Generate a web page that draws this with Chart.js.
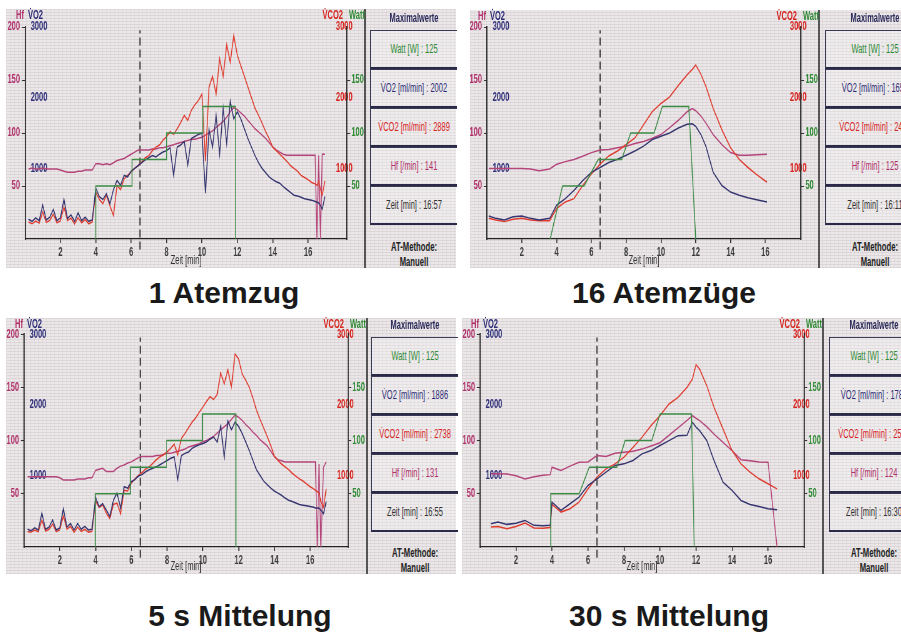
<!DOCTYPE html>
<html>
<head>
<meta charset="utf-8">
<script src="https://cdn.jsdelivr.net/npm/chart.js@4.4.1/dist/chart.umd.min.js"></script>
<style>
  html, body { margin: 0; padding: 0; width: 901px; height: 634px; overflow: hidden; background: #fff; }
  body { position: relative; font-family: 'Liberation Sans', Arial, Helvetica, sans-serif; }
  .panel {
    position: absolute;
    background-color: #ebe7e8;
    background-image:
      repeating-linear-gradient(0deg, rgba(120,100,110,.12) 0px, rgba(120,100,110,.12) 1px, transparent 1px, transparent 3px),
      repeating-linear-gradient(90deg, rgba(120,100,110,.06) 0px, rgba(120,100,110,.06) 1px, transparent 1px, transparent 4px);
  }
  .sep { position: absolute; width: 1.5px; background: #555; }
  .box {
    position: absolute; box-sizing: border-box; height: 39px;
    border-top: 1px solid #3a3a55; border-left: 1px solid #3a3a55; border-bottom: 2px solid #2a2a48;
    background: rgba(255,255,255,.22);
  }
  .lbl { position: absolute; white-space: nowrap; line-height: 1; }
</style>
</head>
<body>
<script>
// ---------- data ----------
const atTime = [6.5, 6.5];
const atLevel = [-10, 197];

// 1 Atemzug
const p1Time = [0.2,0.4,0.6,0.8,1.0,1.2,1.4,1.6,1.8,2.0,2.2,2.4,2.6,2.8,3.0,3.2,3.4,3.6,3.8,
  4.0,4.2,4.4,4.6,4.8,5.0,5.2,5.4,5.6,5.8,6.0,6.2,6.4,6.6,6.8,7.0,7.2,7.4,7.6,7.8,
  8.0,8.2,8.4,8.6,8.8,9.0,9.2,9.4,9.6,9.8,10.0,10.2,10.4,10.6,10.8,11.0,11.2,11.4,11.6,11.8,
  12.0,12.2,12.4,12.6,12.8,13.0,13.2,13.4,13.6,13.8,14.0,14.2,14.4,14.6,14.8,15.0,15.2,15.4,15.6,15.8,
  16.0,16.2,16.4,16.5,16.6,16.7,16.8,16.95];
const p1Vo2 = [280,250,300,260,480,270,310,420,260,300,560,290,340,250,370,260,310,250,270,
  720,600,560,640,500,700,830,760,900,880,960,1000,1040,1080,1120,1150,1180,1160,1200,1230,
  1250,1290,900,1300,1330,1380,1050,1420,1450,1480,1500,650,1550,1300,1750,1200,1850,1350,1950,1700,
  1800,1700,1560,1420,1300,1180,1080,1000,940,880,840,810,790,740,700,660,620,610,590,570,
  560,550,530,520,510,470,420,600];
const p1Vco2 = [240,215,255,225,380,235,265,350,230,255,450,260,295,215,300,230,275,215,240,
  660,560,500,620,470,330,760,700,850,900,950,1000,1040,1090,1150,1180,1250,1300,1330,1400,
  1450,1520,1480,1560,1650,1750,1680,1820,1900,1960,2050,1100,2150,2300,2050,2550,2300,2750,2500,2880,
  2600,2450,2300,2150,2000,1850,1750,1640,1520,1420,1300,1250,1200,1150,1100,1040,1000,960,900,870,
  840,800,780,760,820,700,620,820];
const p1Hf = [66,67,66,66,67,66,66,66,66,65,64,63,63,63,64,64,65,65,65,
  71,71,70,71,70,72,74,75,76,78,80,82,84,84,84,84,85,85,86,86,
  87,88,89,90,91,92,93,94,94,95,96,98,100,102,105,108,111,115,120,124,
  122,119,116,112,108,104,101,98,95,91,87,84,82,80,79,79,79,79,79,79,
  79,79,79,0,79,0,80,80];
const p1WattTime = [4, 4, 6.05, 6.05, 8, 8, 10.05, 10.05, 11.9, 11.9];
const p1Watt = [0, 50, 50, 75, 75, 100, 100, 125, 125, 0];
const p1Max = ['Watt [W] : 125', 'V\u0307O2 [ml/min] : 2002', 'V\u0307CO2 [ml/min] : 2889', 'Hf [/min] : 141', 'Zeit [min] : 16:57'];

// 16 Atemzüge
const p2Time = [0.1,0.5,1.0,1.5,2.0,2.5,3.0,3.6,4.0,4.5,5.0,5.5,6.0,6.5,7.0,7.5,8.0,8.5,9.0,9.5,
  10.0,10.5,11.0,11.5,11.8,12.0,12.3,12.6,13.0,13.5,14.0,14.5,15.0,15.5,16.1];
const p2Hf = [66.6,66.6,66.6,66.6,66.6,66,64.5,66,70.5,73,75,78,81.5,84,84.5,86,87.6,90,92,95,
  98.5,105,112,120,123,121,116,109,98.5,89,81.5,79,79,79.5,80];
const p2Vo2 = [325,292,269,316,325,292,269,292,478,571,687,827,943,1012,1082,1128,1184,1245,1314,1407,
  1454,1500,1570,1625,1630,1593,1477,1300,943,757,664,618,585,557,525];
const p2Vco2 = [292,269,246,279,292,269,260,260,432,525,571,757,920,1059,1175,1245,1337,1430,1616,1802,
  1918,2011,2173,2322,2400,2461,2330,2150,1848,1546,1291,1128,1012,910,803];
const p2WattTime = [3.63, 4.34, 5.58, 6.39, 7.74, 8.26, 9.6, 10.08, 11.6, 12.0];
const p2Watt = [0, 50, 50, 75, 75, 100, 100, 125, 125, 0];
const p2Max = ['Watt [W] : 125', 'V\u0307O2 [ml/min] : 1655', 'V\u0307CO2 [ml/min] : 2489', 'Hf [/min] : 125', 'Zeit [min] : 16:11'];

// 5 s Mittelung
const p3Time = [0.2,0.4,0.6,0.8,1.0,1.2,1.4,1.6,1.8,2.0,2.2,2.4,2.6,2.8,3.0,3.2,3.4,3.6,3.8,
  4.0,4.2,4.4,4.6,4.8,5.0,5.2,5.4,5.6,5.8,6.0,6.2,6.4,6.6,6.8,7.0,7.2,7.4,7.6,7.8,
  8.0,8.2,8.4,8.6,8.8,9.0,9.2,9.4,9.6,9.8,10.0,10.2,10.4,10.6,10.8,11.0,11.2,11.4,11.6,11.8,
  12.0,12.2,12.4,12.6,12.8,13.0,13.2,13.4,13.6,13.8,14.0,14.2,14.4,14.6,14.8,15.0,15.2,15.4,15.6,15.8,
  16.0,16.2,16.3,16.4,16.5,16.6,16.75,16.9];
const p3Vo2 = [250,230,270,240,480,250,280,380,240,270,540,280,330,240,330,250,290,240,250,
  700,570,610,520,430,660,760,550,850,830,920,950,1000,1020,1060,1090,1110,1130,1160,1190,
  1220,1250,1270,950,1290,1320,1340,1390,1420,1440,1460,1480,1520,1550,1480,1700,1270,1780,1650,1760,
  1700,1600,1480,1360,1220,1090,1010,930,880,830,790,760,730,690,660,640,620,600,590,580,
  570,560,550,550,545,520,470,640];
const p3Vco2 = [215,210,240,215,380,225,250,320,215,240,440,250,290,210,280,220,250,210,220,
  650,560,590,480,400,600,620,470,800,790,900,960,1010,1050,1100,1130,1180,1230,1270,1300,
  1340,1390,1450,1300,1530,1600,1680,1760,1820,1900,1970,2050,2120,2080,2150,2450,2300,2500,2250,2720,
  2650,2440,2350,2250,2100,1930,1800,1680,1560,1430,1280,1220,1170,1130,1090,1040,1000,960,930,890,
  850,820,800,780,760,640,560,820];
const p3Hf = [66,66,66,66,66,66,66,66,66,65,63,63,63,63,64,64,64,65,65,
  72,73,74,71,71,71,74,76,77,79,80,82,84,85,85,85,85,86,86,87,
  88,88,89,90,91,92,94,95,96,97,99,100,102,104,107,110,113,116,120,124,
  122,119,115,112,108,105,101,98,95,90,85,82,81,80,80,80,80,80,80,80,
  80,80,80,0,78,0,75,80];
const p3WattTime = [3.99, 3.99, 5.95, 5.95, 7.97, 7.97, 9.98, 9.98, 11.85, 11.85];
const p3Watt = [0, 50, 50, 75, 75, 100, 100, 125, 125, 0];
const p3Max = ['Watt [W] : 125', 'V\u0307O2 [ml/min] : 1886', 'V\u0307CO2 [ml/min] : 2738', 'Hf [/min] : 131', 'Zeit [min] : 16:55'];

// 30 s Mittelung
const p4Time = [0.6,1.0,1.5,2.0,2.5,3.0,3.5,3.9,4.0,4.5,5.0,5.5,6.0,6.5,7.0,7.5,8.0,8.5,9.0,9.5,
  10.0,10.5,11.0,11.5,11.8,12.0,12.2,12.6,13.0,13.5,14.0,14.5,15.0,15.5,16.0,16.5];
const p4Hf = [68.8,68.8,68.5,67,64,66,67.5,68,75,72,76,79.7,80,86,85,88,89,90,92,95,
  98,105,112,119,123.4,121,118.8,113,106,98.4,90.6,82,81,80,79.7,0];
const p4Vo2 = [328,351,319,335,375,305,300,305,633,516,609,703,867,961,1055,1148,1172,1219,1313,1359,
  1430,1500,1570,1575,1758,1690,1640,1500,1219,914,797,656,600,572,539,525];
const p4Vco2 = [281,290,258,290,338,267,265,275,600,492,539,633,820,984,1102,1172,1266,1406,1547,1711,
  1852,2016,2109,2250,2367,2569,2508,2273,1969,1664,1359,1172,1055,961,891,820];
const p4WattTime = [3.93, 3.93, 5.51, 6.07, 7.6, 8.06, 9.54, 10.0, 11.75, 11.9];
const p4Watt = [0, 50, 50, 75, 75, 100, 100, 125, 125, 0];
const p4Max = ['Watt [W] : 125', 'V\u0307O2 [ml/min] : 1786', 'V\u0307CO2 [ml/min] : 2561', 'Hf [/min] : 124', 'Zeit [min] : 16:30'];

// ---------- look ----------
const SQ = 1.6;   // canvas is drawn wider and squeezed, gives the narrow screen font
const FONT = "'Liberation Sans', Arial, Helvetica, sans-serif";
const LINE = { hf: '#b4457a', vo2: '#34346e', vco2: '#df3b2e', w: '#3d8c46' };
const TEXT = { hf: '#b0306a', vo2: '#2d2d78', vco2: '#d6231e', w: '#2f8a34', zeit: '#333' };

const panels = [
  { bx: 6, by: 9, bw: 450, bh: 259, sepX: 365, axL: 25, axR: 347, yTop: 27, yBot: 239, xMax: 18.2,
    boxX: 370, boxW: 87, titleY: 18, boxTop: 30, atY: 247, headY: 15,
    t: p1Time, hf: p1Hf, vo2: p1Vo2, vco2: p1Vco2, wt: p1WattTime, w: p1Watt, max: p1Max,
    caption: '1 Atemzug', capX: 224, capY: 303 },
  { bx: 470, by: 10, bw: 431, bh: 258, sepX: 819, axL: 487, axR: 801, yTop: 27, yBot: 239, xMax: 18.05,
    boxX: 825, boxW: 100, titleY: 18, boxTop: 30, atY: 247, headY: 16,
    t: p2Time, hf: p2Hf, vo2: p2Vo2, vco2: p2Vco2, wt: p2WattTime, w: p2Watt, max: p2Max,
    caption: '16 Atemzüge', capX: 664, capY: 303 },
  { bx: 6, by: 318, bw: 450, bh: 256, sepX: 367, axL: 24, axR: 348, yTop: 333, yBot: 547, xMax: 18.12,
    boxX: 371, boxW: 87, titleY: 325, boxTop: 337, atY: 553, headY: 324,
    t: p3Time, hf: p3Hf, vo2: p3Vo2, vco2: p3Vco2, wt: p3WattTime, w: p3Watt, max: p3Max,
    caption: '5 s Mittelung', capX: 240, capY: 626 },
  { bx: 462, by: 318, bw: 439, bh: 256, sepX: 823, axL: 480, axR: 804, yTop: 333, yBot: 547, xMax: 18.0,
    boxX: 829, boxW: 90, titleY: 325, boxTop: 337, atY: 553, headY: 324,
    t: p4Time, hf: p4Hf, vo2: p4Vo2, vco2: p4Vco2, wt: p4WattTime, w: p4Watt, max: p4Max,
    caption: '30 s Mittelung', capX: 669, capY: 626 }
];

// ---------- helpers ----------
function div(cls, css) {
  const d = document.createElement('div');
  d.className = cls;
  Object.assign(d.style, css);
  document.body.appendChild(d);
  return d;
}

function label(text, x, y, o) {
  o = o || {};
  const d = div('lbl', {
    left: x + 'px', top: y + 'px', color: o.color || '#222',
    fontSize: (o.size || 12) + 'px', fontWeight: o.bold ? 'bold' : 'normal'
  });
  d.textContent = text;
  const sx = o.sx || 1 / SQ;
  const align = o.align || 'center';
  if (align === 'center') {
    d.style.transformOrigin = '50% 50%';
    d.style.transform = `translate(-50%,-50%) scaleX(${sx})`;
  } else if (align === 'right') {
    d.style.transformOrigin = '100% 50%';
    d.style.transform = `translate(-100%,-50%) scaleX(${sx})`;
  } else {
    d.style.transformOrigin = '0 50%';
    d.style.transform = `translateY(-50%) scaleX(${sx})`;
  }
  return d;
}

function pts(xs, ys) {
  return xs.map((x, i) => ({ x: x, y: ys[i] }));
}

function lineSet(data, axis, color, extra) {
  return Object.assign({
    data: data, yAxisID: axis, borderColor: color, borderWidth: 1.5,
    pointRadius: 0, fill: false, tension: 0
  }, extra || {});
}

function keep(lo, hi) {
  return s => { s.ticks = s.ticks.filter(t => t.value >= lo - 1e-6 && t.value <= hi + 1e-6); };
}

const tickFont = { family: FONT, size: 12, weight: 'bold' };
const titleFont = { family: FONT, size: 12 };

function makeScales(p) {
  const wL = (p.axL - p.bx) * SQ;
  const wR = (p.sepX - p.axR) * SQ;
  const hX = p.by + p.bh - p.yBot;
  const asText = v => String(v);
  return {
    x: {
      type: 'linear', position: 'bottom', min: 0, max: p.xMax,
      border: { color: '#222', width: 1.2 },
      grid: { drawOnChartArea: false, drawTicks: true, tickLength: 4, color: '#333', lineWidth: 1.6 },
      ticks: { stepSize: 2, font: tickFont, color: '#3a3a3a', padding: 2, maxRotation: 0, autoSkip: false, callback: asText },
      title: { display: true, text: 'Zeit [min]', font: titleFont, color: '#333', padding: { top: 0, bottom: 0 } },
      afterBuildTicks: keep(2, 16),
      afterFit: s => { s.height = hX; }
    },
    yHf: {
      type: 'linear', position: 'left', weight: 2, min: 0, max: 200,
      border: { color: '#222', width: 1.8 },
      grid: { drawOnChartArea: false, drawTicks: true, tickLength: 5, color: '#333', lineWidth: 1 },
      ticks: { stepSize: 50, font: tickFont, color: TEXT.hf, padding: 3, callback: asText },
      afterBuildTicks: keep(50, 200),
      afterFit: s => { s.width = wL; }
    },
    yVo2: {
      type: 'linear', position: 'left', weight: 1, min: 0, max: 3000,
      border: { display: false }, grid: { display: false, drawTicks: false },
      ticks: { stepSize: 1000, mirror: true, font: tickFont, color: TEXT.vo2, padding: 9, callback: asText },
      afterBuildTicks: keep(1000, 3000),
      afterFit: s => { s.width = 0; }
    },
    yVco2: {
      type: 'linear', position: 'right', weight: 1, min: 0, max: 3000,
      border: { display: false }, grid: { display: false, drawTicks: false },
      ticks: { stepSize: 1000, mirror: true, font: tickFont, color: TEXT.vco2, padding: 9, callback: asText },
      afterBuildTicks: keep(1000, 3000),
      afterFit: s => { s.width = 0; }
    },
    yW: {
      type: 'linear', position: 'right', weight: 2, min: 0, max: 200,
      border: { color: '#222', width: 1.8 },
      grid: { drawOnChartArea: false, drawTicks: true, tickLength: 5, color: '#333', lineWidth: 1 },
      ticks: { stepSize: 50, font: tickFont, color: TEXT.w, padding: 2, callback: asText },
      afterBuildTicks: keep(50, 150),
      afterFit: s => { s.width = wR; }
    }
  };
}

function buildPanel(p) {
  div('panel', { left: p.bx + 'px', top: p.by + 'px', width: p.bw + 'px', height: p.bh + 'px' });
  div('sep', { left: (p.sepX - 0.75) + 'px', top: p.by + 'px', height: p.bh + 'px' });

  // chart
  const cw = p.sepX - p.bx;
  const cv = document.createElement('canvas');
  cv.width = Math.round(cw * SQ);
  cv.height = p.bh;
  cv.style.cssText = `position:absolute;left:${p.bx}px;top:${p.by}px;width:${cw}px;height:${p.bh}px`;
  document.body.appendChild(cv);

  new Chart(cv.getContext('2d'), {
    type: 'line',
    data: {
      datasets: [
        lineSet(pts(p.wt, p.w), 'yW', LINE.w),
        lineSet(pts(p.t, p.vo2), 'yVo2', LINE.vo2),
        lineSet(pts(p.t, p.vco2), 'yVco2', LINE.vco2),
        lineSet(pts(p.t, p.hf), 'yHf', LINE.hf),
        lineSet(pts(atTime, atLevel), 'yHf', '#3a3a3a', { borderDash: [8, 4], borderWidth: 2, clip: false })
      ]
    },
    options: {
      responsive: false,
      devicePixelRatio: 1,
      animation: false,
      layout: { padding: { top: p.yTop - p.by, left: 0, right: 0, bottom: 0 } },
      plugins: { legend: { display: false }, tooltip: { enabled: false } },
      scales: makeScales(p)
    }
  });

  // axis headers
  label('Hf', p.axL - 1, p.headY, { color: TEXT.hf, align: 'right', bold: true });
  label('V\u0307O2', p.axL + 3, p.headY, { color: TEXT.vo2, align: 'left', bold: true });
  label('V\u0307CO2', p.axR - 4, p.headY, { color: TEXT.vco2, align: 'right', bold: true });
  label('Watt', p.axR + 2, p.headY, { color: TEXT.w, align: 'left', bold: true });

  // sidebar
  const cx = p.boxX + p.boxW / 2;
  const colors = [TEXT.w, TEXT.vo2, TEXT.vco2, TEXT.hf, TEXT.zeit];
  label('Maximalwerte', cx, p.titleY, { color: '#2a2a5a', bold: true, sx: 0.62 });
  p.max.forEach((txt, i) => {
    const top = p.boxTop + i * 39;
    div('box', { left: p.boxX + 'px', top: top + 'px', width: p.boxW + 'px' });
    label(txt, cx, top + 19, { color: colors[i], sx: 0.6, size: 12.5 });
  });
  label('AT-Methode:', cx, p.atY, { color: '#222', bold: true, sx: 0.64 });
  label('Manuell', cx, p.atY + 15, { color: '#222', bold: true, sx: 0.64 });

  // caption
  label(p.caption, p.capX, p.capY - 10.4, { color: '#1a1a1a', size: 30, bold: true, sx: 1 });
}

panels.forEach(buildPanel);
</script>
</body>
</html>
